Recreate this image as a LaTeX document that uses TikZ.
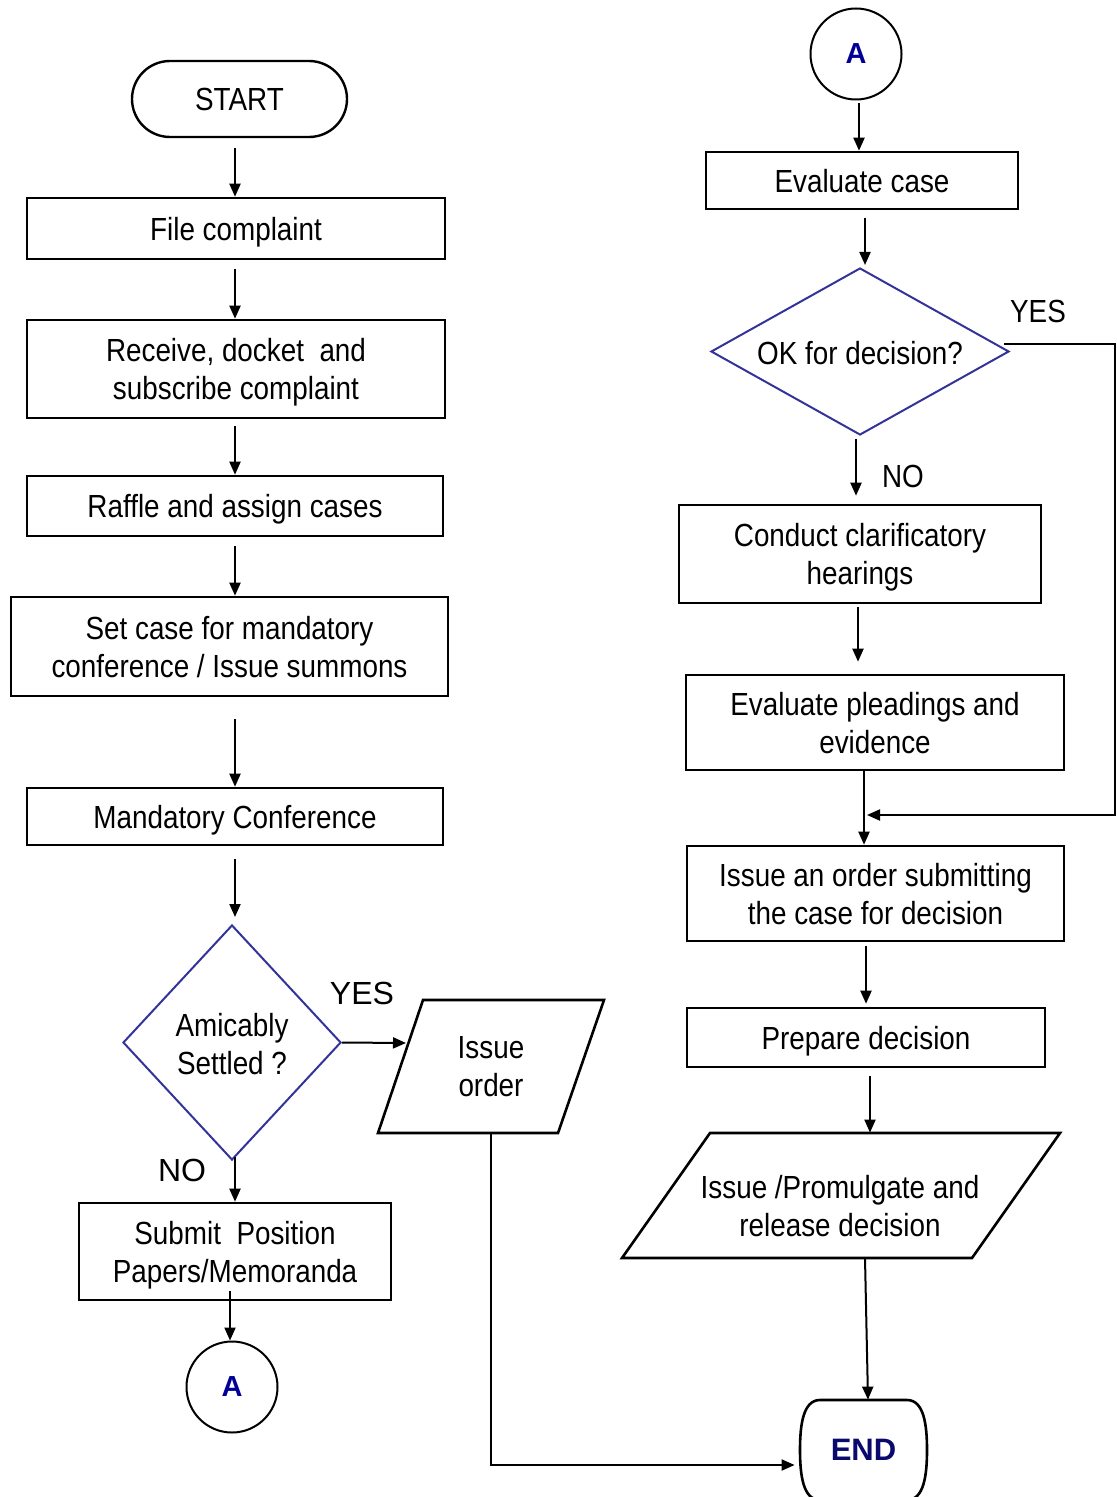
\documentclass[tikz,border=0pt]{standalone}
\usepackage{fontspec}
\setmainfont{Liberation Sans}
\newfontfamily\nar[FakeStretch=0.87]{Liberation Sans}
\usetikzlibrary{shapes.geometric,arrows.meta}
\definecolor{dblue}{RGB}{51,51,153}
\definecolor{navyA}{RGB}{0,0,150}
\definecolor{navyE}{RGB}{10,10,110}
\begin{document}
\begin{tikzpicture}[x=0.5pt,y=-0.5pt,
 box/.style={draw, line width=1.3pt, rectangle, inner sep=0pt, align=center, text depth=0pt, font=\nar\fontsize{16pt}{19pt}\selectfont},
 txt/.style={inner sep=0pt, align=center, text depth=0pt, font=\nar\fontsize{16pt}{19pt}\selectfont},
 lbl/.style={inner sep=0pt, font=\fontsize{16pt}{19pt}\selectfont},
 nlbl/.style={inner sep=0pt, font=\nar\fontsize{16pt}{19pt}\selectfont},
 dia/.style={draw=dblue, line width=1pt, diamond, inner sep=0pt},
 circ/.style={draw, circle, line width=1pt, inner sep=0pt, minimum size=45.5pt, font=\bfseries\fontsize{14.5pt}{17pt}\selectfont, text=navyA},
 arr/.style={line width=1pt, -{Triangle[length=6.5pt,width=5.5pt]}},
 shp/.style={line width=1.3pt}]
\useasboundingbox (0,0) rectangle (1117,1497);
% left column
\node[box, rounded corners=19pt, line width=1.2pt, minimum width=107.5pt, minimum height=38pt] (start) at (239.5,99) {START};
\node[box, minimum width=209pt, minimum height=30.5pt] (file) at (236,228.5) {File complaint};
\node[box, minimum width=209pt, minimum height=49pt] (recv) at (236,369) {Receive, docket~ and\\subscribe complaint};
\node[box, minimum width=208pt, minimum height=30pt] (raffle) at (235,506) {Raffle and assign cases};
\node[box, minimum width=218.5pt, minimum height=49.5pt] (setc) at (229.5,646.5) {Set case for mandatory\\conference / Issue summons};
\node[box, minimum width=208pt, minimum height=28.5pt] (mand) at (235,816.5) {Mandatory Conference};
\node[dia, minimum width=109pt, minimum height=117.5pt] (amic) at (232,1042.5) {};
\node[txt] (amict) at (232,1043.5) {Amicably\\Settled ?};
\node[lbl] (yes1) at (362,993) {YES};
\node[lbl] (no1) at (182,1170) {NO};
\coordinate (ioin) at (406,1043);
\node[txt, minimum width=90pt, minimum height=66.5pt] (iord) at (491,1066.5) {Issue\\order};
\draw[shp] (423,1000) -- (604,1000) -- (558,1133) -- (378,1133) -- cycle;
\node[box, minimum width=156pt, minimum height=48.5pt] (subm) at (235,1251.5) {Submit~ Position\\Papers/Memoranda};
\node[circ] (aL) at (232,1387) {A};
% right column
\node[circ] (aR) at (856,54) {A};
\node[box, minimum width=156pt, minimum height=28.5pt] (evc) at (862,180.5) {Evaluate case};
\node[dia, minimum width=149pt, minimum height=83.5pt] (ok) at (860,351.5) {};
\node[txt] (okt) at (860,353) {OK for decision?};
\node[nlbl] (yes2) at (1038,311) {YES};
\node[nlbl] (no2) at (903,476) {NO};
\node[box, minimum width=181pt, minimum height=49pt] (cond) at (860,554) {Conduct clarificatory\\hearings};
\node[box, minimum width=189pt, minimum height=47.5pt] (plead) at (875,722.5) {Evaluate pleadings and\\evidence};
\node[box, minimum width=188.5pt, minimum height=47.5pt] (isub) at (875.5,893.5) {Issue an order submitting\\the case for decision};
\node[box, minimum width=179pt, minimum height=29.5pt] (prep) at (866,1037.5) {Prepare decision};
\node[txt, minimum width=150pt, minimum height=73pt] (prom) at (840,1206) {Issue /Promulgate and\\release decision};
\draw[shp] (710,1133) -- (1060,1133) -- (972,1258) -- (622,1258) -- cycle;
\node[inner sep=0pt, minimum width=63.5pt, minimum height=50pt, font=\bfseries\fontsize{15.5pt}{18pt}\selectfont, text=navyE] (endn) at (863.5,1450) {END};
\draw[shp] (820,1400) -- (907,1400) .. controls (924,1400) and (927,1425) .. (927,1450)
  .. controls (927,1475) and (924,1500) .. (907,1500) -- (820,1500)
  .. controls (803,1500) and (800,1475) .. (800,1450)
  .. controls (800,1425) and (803,1400) .. (820,1400) -- cycle;
% connectors left
\draw[arr] ([xshift=-2.25pt,yshift=-5pt]start.south) -- ([xshift=-0.5pt]file.north);
\draw[arr] ([xshift=-0.5pt,yshift=-4.5pt]file.south) -- ([xshift=-0.5pt]recv.north);
\draw[arr] ([xshift=-0.5pt,yshift=-3.5pt]recv.south) -- (raffle.north);
\draw[arr] ([yshift=-4.5pt]raffle.south) -- ([xshift=2.75pt]setc.north);
\draw[arr] ([xshift=2.75pt,yshift=-11pt]setc.south) -- (mand.north);
\draw[arr] ([yshift=-6.5pt]mand.south) -- ([xshift=1.5pt,yshift=3.5pt]amic.north);
\draw[arr] (amic.east) -- (ioin);
\draw[arr] ([xshift=1.5pt,yshift=2pt]amic.south) -- (subm.north);
\draw[arr] ([xshift=-2.5pt,yshift=5pt]subm.south) -- ([xshift=-1pt]aL.north);
\draw[arr] (iord.south) |- ([yshift=-7.5pt,xshift=-2.5pt]endn.west);
% connectors right
\draw[arr] ([xshift=1.5pt,yshift=-1.5pt]aR.south) -- ([xshift=-1.5pt]evc.north);
\draw[arr] ([xshift=1.5pt,yshift=-4pt]evc.south) -- ([xshift=2.5pt,yshift=1pt]ok.north);
\coordinate (rt) at (1115,815);
\coordinate (join) at (867,815);
\draw[arr] ([xshift=-3pt,yshift=3.5pt]ok.east) -| (rt) -- (join);
\draw[arr] ([xshift=-2pt,yshift=-1.5pt]ok.south) -- ([xshift=-2pt,yshift=4pt]cond.north);
\draw[arr] ([xshift=-1pt,yshift=-1.5pt]cond.south) -- ([xshift=-8.5pt,yshift=6pt]plead.north);
\draw[arr] ([xshift=-5.5pt]plead.south) -- ([xshift=-5.75pt]isub.north);
\draw[arr] ([xshift=-4.75pt,yshift=-2pt]isub.south) -- ([yshift=1.5pt]prep.north);
\draw[arr] ([xshift=2pt,yshift=-4pt]prep.south) -- ([xshift=15pt]prom.north);
\draw[arr] ([xshift=12.5pt,yshift=10.5pt]prom.south) -- ([xshift=2.25pt]endn.north);
\end{tikzpicture}
\end{document}
